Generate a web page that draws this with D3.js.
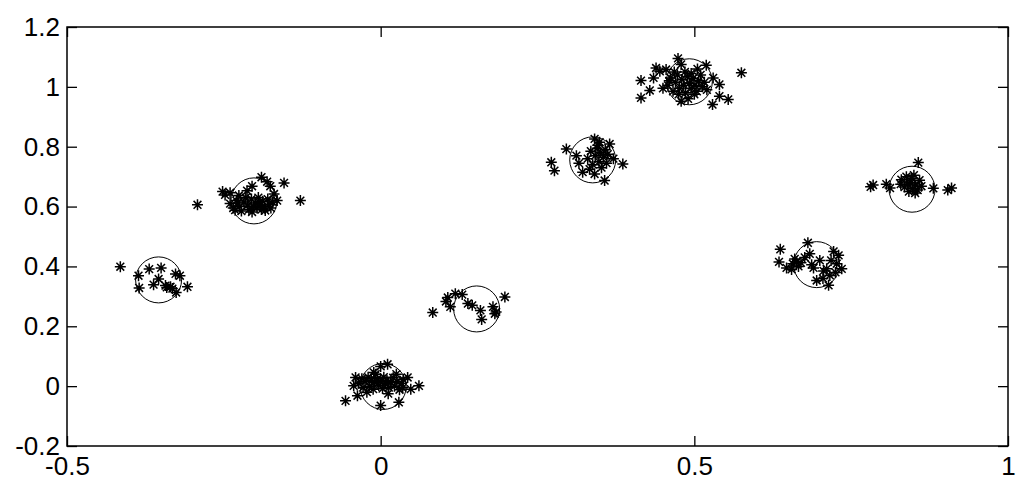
<!DOCTYPE html>
<html>
<head>
<meta charset="utf-8">
<script src="https://cdn.jsdelivr.net/npm/d3@7"></script>
<style>
  html, body { margin: 0; padding: 0; background: #fff; }
  svg { display: block; }
  .tick text { font-family: "Liberation Sans", Arial, sans-serif; }
</style>
</head>
<body>
<svg id="chart" width="1024" height="489"></svg>
<script>
// ---- Data ----
const xTicks = [-0.5, 0, 0.5, 1];
const yTicks = [-0.2, 0, 0.2, 0.4, 0.6, 0.8, 1, 1.2];

const cluster1 = [[-0.415,0.399],[-0.386,0.369],[-0.369,0.391],[-0.350,0.395],[-0.385,0.328],[-0.362,0.339],[-0.354,0.358],[-0.341,0.330],[-0.335,0.332],[-0.326,0.313],[-0.320,0.369],[-0.308,0.332],[-0.327,0.375],[-0.343,0.336],[-0.332,0.326]];
const cluster2 = [[-0.292,0.606],[-0.252,0.650],[-0.248,0.639],[-0.240,0.646],[-0.226,0.637],[-0.213,0.653],[-0.205,0.668],[-0.190,0.698],[-0.181,0.683],[-0.176,0.668],[-0.154,0.679],[-0.128,0.620],[-0.165,0.620],[-0.170,0.642],[-0.194,0.615],[-0.184,0.587],
  [-0.240,0.610],[-0.235,0.595],[-0.230,0.620],[-0.225,0.600],[-0.222,0.585],[-0.218,0.615],[-0.212,0.605],[-0.210,0.590],[-0.206,0.625],[-0.203,0.600],[-0.200,0.612],[-0.197,0.595],[-0.195,0.630],[-0.192,0.605],[-0.188,0.618],[-0.185,0.600],[-0.180,0.625],[-0.178,0.608],[-0.175,0.595],[-0.172,0.615],[-0.215,0.630],[-0.228,0.612],[-0.232,0.588],[-0.205,0.582],[-0.190,0.590]];
const cluster3 = [[-0.056,-0.049],[-0.037,-0.032],[-0.043,0.001],[-0.040,0.029],[0.000,-0.065],[0.000,0.066],[0.011,0.073],[0.029,-0.054],[0.043,0.029],[0.061,0.001],[0.048,-0.010],[0.035,-0.005],[-0.011,0.046],
  [-0.035,0.010],[-0.030,0.025],[-0.028,-0.005],[-0.025,0.015],[-0.020,0.030],[-0.018,0.000],[-0.015,0.020],[-0.012,-0.010],[-0.010,0.012],[-0.005,0.025],[-0.003,0.002],[0.000,0.015],[0.003,-0.008],[0.005,0.030],[0.008,0.008],[0.010,0.020],[0.013,-0.005],[0.016,0.012],[0.020,0.028],[0.022,0.000],[0.026,0.015],[0.030,-0.012],[0.033,0.010],[0.036,0.022],[-0.022,-0.020],[0.012,-0.025],[-0.008,0.040],[0.025,0.040]];
const cluster4 = [[0.083,0.246],[0.104,0.283],[0.111,0.265],[0.119,0.309],[0.130,0.306],[0.139,0.276],[0.146,0.270],[0.159,0.253],[0.161,0.223],[0.179,0.265],[0.184,0.248],[0.198,0.298],[0.182,0.242],[0.107,0.296]];
const cluster5 = [[0.296,0.792],[0.272,0.748],[0.277,0.720],[0.312,0.770],[0.316,0.745],[0.341,0.826],[0.365,0.809],[0.349,0.815],[0.386,0.742],[0.357,0.687],[0.341,0.709],[0.322,0.715],[0.371,0.760],
  [0.330,0.760],[0.335,0.785],[0.338,0.740],[0.342,0.770],[0.345,0.795],[0.348,0.750],[0.350,0.780],[0.352,0.730],[0.355,0.765],[0.358,0.790],[0.360,0.745],[0.333,0.725],[0.346,0.805],[0.362,0.775]];
const cluster6 = [[0.415,1.021],[0.415,0.963],[0.429,0.988],[0.439,1.063],[0.474,1.095],[0.479,1.075],[0.519,1.072],[0.575,1.047],[0.540,1.008],[0.540,0.969],[0.554,0.958],[0.529,0.941],[0.479,0.952],[0.445,1.052],[0.455,1.058],[0.490,0.960],[0.505,1.060],[0.530,1.030],[0.435,1.030],[0.450,0.995],
  [0.458,1.005],[0.462,1.030],[0.466,0.985],[0.470,1.015],[0.473,1.040],[0.476,0.995],[0.480,1.025],[0.483,1.005],[0.486,0.980],[0.489,1.035],[0.492,1.012],[0.495,0.995],[0.498,1.028],[0.501,1.005],[0.504,0.985],[0.507,1.020],[0.510,1.040],[0.513,1.000],[0.516,1.015],[0.520,0.990],[0.468,1.050],[0.485,1.050],[0.500,0.975],[0.475,0.975],[0.460,1.020],[0.495,1.045]];
const cluster7 = [[0.637,0.457],[0.635,0.415],[0.647,0.395],[0.657,0.409],[0.663,0.415],[0.681,0.479],[0.684,0.442],[0.676,0.430],[0.687,0.406],[0.695,0.353],[0.714,0.337],[0.711,0.392],[0.722,0.450],[0.730,0.437],[0.735,0.392],[0.727,0.409],[0.716,0.370],[0.706,0.385],[0.666,0.400],[0.660,0.425],[0.670,0.412],[0.700,0.420],[0.718,0.420],[0.725,0.380],[0.705,0.360],[0.690,0.395],[0.655,0.390]];
const cluster8 = [[0.781,0.666],[0.806,0.675],[0.812,0.662],[0.857,0.747],[0.881,0.661],[0.904,0.655],[0.910,0.662],[0.829,0.675],[0.785,0.672],
  [0.830,0.690],[0.835,0.665],[0.838,0.700],[0.842,0.650],[0.845,0.680],[0.848,0.660],[0.850,0.705],[0.853,0.672],[0.856,0.655],[0.859,0.688],[0.862,0.668],[0.840,0.675],[0.846,0.695],[0.852,0.645]];

const centers = [[-0.354,0.355],[-0.202,0.619],[0.004,-0.001],[0.153,0.258],[0.338,0.756],[0.492,1.017],[0.695,0.406],[0.847,0.658]];

const allPoints = [].concat(cluster1, cluster2, cluster3, cluster4, cluster5, cluster6, cluster7, cluster8);

// ---- Layout ----
const L = 67, R = 1008, T = 27, B = 446;
const svg = d3.select("#chart");
const x = d3.scaleLinear().domain([-0.5, 1]).range([L, R]);
const y = d3.scaleLinear().domain([-0.2, 1.2]).range([B, T]);

const fontSize = 26;
const tickLen = 10;

// circles (cluster centers)
svg.append("g").selectAll("circle").data(centers).join("circle")
  .attr("cx", d => x(d[0])).attr("cy", d => y(d[1])).attr("r", 23)
  .attr("fill", "none").attr("stroke", "#000").attr("stroke-width", 1);

// star markers
const star = "M-5.5,0H5.5M0,-5.5V5.5M-3.9,-3.9L3.9,3.9M-3.9,3.9L3.9,-3.9";
svg.append("g").selectAll("path").data(allPoints).join("path")
  .attr("d", star)
  .attr("transform", d => `translate(${x(d[0])},${y(d[1])})`)
  .attr("fill", "none").attr("stroke", "#000").attr("stroke-width", 1.5);

// axes
function styleAxis(g) {
  g.select(".domain").remove();
  g.selectAll(".tick line").attr("stroke", "#000").attr("stroke-width", 1.3);
  g.selectAll(".tick text").attr("fill", "#000").attr("font-size", fontSize);
}
const fmt = d => String(d);

svg.append("g").attr("transform", `translate(0,${B})`)
  .call(d3.axisBottom(x).tickValues(xTicks).tickFormat(fmt).tickSizeInner(-tickLen).tickSizeOuter(0).tickPadding(11))
  .call(styleAxis);
svg.append("g").attr("transform", `translate(0,${T})`)
  .call(d3.axisTop(x).tickValues(xTicks).tickFormat("").tickSizeInner(-tickLen).tickSizeOuter(0))
  .call(styleAxis);
svg.append("g").attr("transform", `translate(${L},0)`)
  .call(d3.axisLeft(y).tickValues(yTicks).tickFormat(fmt).tickSizeInner(-tickLen).tickSizeOuter(0).tickPadding(7))
  .call(styleAxis);
svg.append("g").attr("transform", `translate(${R},0)`)
  .call(d3.axisRight(y).tickValues(yTicks).tickFormat("").tickSizeInner(-tickLen).tickSizeOuter(0))
  .call(styleAxis);

// frame
svg.append("rect").attr("x", L).attr("y", T).attr("width", R - L).attr("height", B - T)
  .attr("fill", "none").attr("stroke", "#000").attr("stroke-width", 1.5);
</script>
</body>
</html>
